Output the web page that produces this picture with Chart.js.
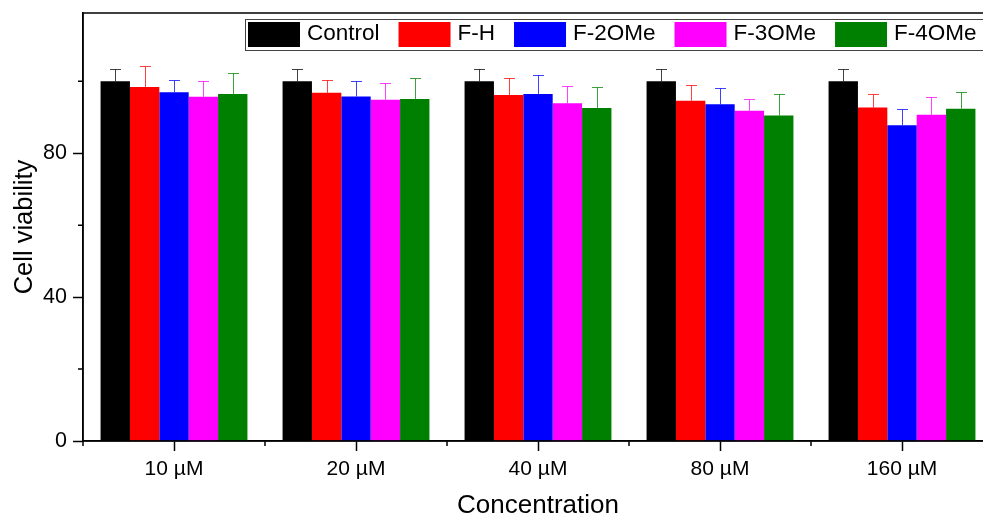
<!DOCTYPE html>
<html>
<head>
<meta charset="utf-8">
<script src="https://cdn.jsdelivr.net/npm/chart.js@4.4.0/dist/chart.umd.min.js"></script>
<style>
  html, body { margin: 0; padding: 0; background: #fff; overflow: hidden; }
  #wrap { width: 1010px; height: 516px; }
</style>
</head>
<body>
<div id="wrap"><canvas id="chart" width="1010" height="516"></canvas></div>
<script>
// Data
var categories = ['10 µM', '20 µM', '40 µM', '80 µM', '160 µM'];
var seriesNames = ['Control', 'F-H', 'F-2OMe', 'F-3OMe', 'F-4OMe'];
var seriesColors = ['#000000', '#ff0000', '#0000ff', '#ff00ff', '#008000'];

var control = [100, 100, 100, 100, 100];
var fH = [98.4, 96.8, 96.2, 94.6, 92.7];
var f2OMe = [97.0, 95.8, 96.5, 93.6, 87.8];
var f3OMe = [95.7, 94.9, 93.9, 91.8, 90.7];
var f4OMe = [96.5, 95.1, 92.6, 90.5, 92.4];

var controlErr = [3.5, 3.5, 3.5, 3.5, 3.5];
var fHErr = [5.9, 3.7, 4.8, 4.4, 3.8];
var f2OMeErr = [3.5, 4.4, 5.3, 4.5, 4.5];
var f3OMeErr = [4.5, 4.5, 4.7, 3.4, 4.9];
var f4OMeErr = [5.8, 5.7, 5.8, 6.0, 4.5];

var yTicks = [0, 40, 80];
var yMinorTicks = [20, 60, 100];

var FONT = '"Liberation Sans", Arial, sans-serif';

var values = [control, fH, f2OMe, f3OMe, f4OMe];
var errors = [controlErr, fHErr, f2OMeErr, f3OMeErr, f4OMeErr];

var datasets = seriesNames.map(function (name, i) {
    return {
        label: name,
        data: values[i],
        errors: errors[i],
        backgroundColor: seriesColors[i],
        borderWidth: 0
    };
});

// Upward error bars with caps
var errorBars = {
    id: 'errorBars',
    afterDatasetsDraw: function (chart) {
        var ctx = chart.ctx;
        var y = chart.scales.y;
        ctx.save();
        ctx.lineWidth = 1;
        chart.data.datasets.forEach(function (ds, i) {
            var meta = chart.getDatasetMeta(i);
            ctx.strokeStyle = ds.backgroundColor;
            ctx.globalAlpha = 0.75;
            meta.data.forEach(function (bar, j) {
                var top = y.getPixelForValue(ds.data[j]);
                var end = y.getPixelForValue(ds.data[j] + ds.errors[j]);
                var x = Math.round(bar.x) + 0.5;
                ctx.beginPath();
                ctx.moveTo(x, top);
                ctx.lineTo(x, Math.round(end) + 0.5);
                ctx.moveTo(x - 5.5, Math.round(end) + 0.5);
                ctx.lineTo(x + 5.5, Math.round(end) + 0.5);
                ctx.stroke();
            });
        });
        ctx.restore();
    }
};

// Frame, minor ticks and the boxed legend
var decorations = {
    id: 'decorations',
    afterDraw: function (chart) {
        var ctx = chart.ctx;
        var a = chart.chartArea;
        var x = chart.scales.x;
        var y = chart.scales.y;
        ctx.save();
        ctx.strokeStyle = '#000';
        ctx.lineWidth = 1.5;
        ctx.strokeRect(a.left, a.top, a.right - a.left, a.bottom - a.top);

        // minor ticks on y
        ctx.beginPath();
        yMinorTicks.forEach(function (v) {
            var py = y.getPixelForValue(v);
            ctx.moveTo(a.left - 5, py);
            ctx.lineTo(a.left, py);
        });
        // minor ticks on x at category boundaries
        for (var i = 0; i <= categories.length; i++) {
            var px = x.getPixelForValue(i - 0.5);
            ctx.moveTo(px, a.bottom);
            ctx.lineTo(px, a.bottom + 5);
        }
        ctx.stroke();

        // legend
        ctx.lineWidth = 1;
        ctx.strokeStyle = '#444';
        ctx.fillStyle = '#fff';
        ctx.fillRect(245, 19, 800, 31);
        ctx.strokeRect(245.5, 19.5, 800, 31);
        ctx.font = '22.5px ' + FONT;
        ctx.textBaseline = 'middle';
        var lx = 248;
        chart.data.datasets.forEach(function (ds) {
            ctx.fillStyle = ds.backgroundColor;
            ctx.fillRect(lx, 22, 52, 25);
            lx += 52 + 7;
            ctx.fillStyle = '#000';
            ctx.fillText(ds.label, lx, 34);
            lx += ctx.measureText(ds.label).width + 19;
        });
        ctx.restore();
    }
};

new Chart(document.getElementById('chart'), {
    type: 'bar',
    data: { labels: categories, datasets: datasets },
    options: {
        responsive: false,
        animation: false,
        layout: { padding: { top: 13, right: 17, left: 0, bottom: 0 } },
        datasets: { bar: { categoryPercentage: 0.807, barPercentage: 1 } },
        plugins: { legend: { display: false }, tooltip: { enabled: false } },
        scales: {
            x: {
                grid: { display: true, drawOnChartArea: false, drawTicks: true, tickLength: 10, tickColor: '#000', tickWidth: 1.5, offset: false },
                border: { display: true, color: '#000', width: 1.5 },
                ticks: { color: '#000', font: { family: FONT, size: 21 }, padding: 6, maxRotation: 0, autoSkip: false },
                title: { display: true, text: 'Concentration', color: '#000', font: { family: FONT, size: 26, lineHeight: 0.77 }, padding: 0 },
                afterFit: function (s) { s.height = 75; s.paddingLeft = 0; s.paddingRight = 0; }
            },
            y: {
                min: 0,
                max: 119,
                afterBuildTicks: function (s) { s.ticks = yTicks.map(function (v) { return { value: v }; }); },
                grid: { display: true, drawOnChartArea: false, drawTicks: true, tickLength: 10, tickColor: '#000', tickWidth: 1.5 },
                border: { display: true, color: '#000', width: 1.5 },
                ticks: { color: '#000', font: { family: FONT, size: 21.5 }, padding: 6 },
                title: { display: true, text: 'Cell viability', color: '#000', font: { family: FONT, size: 25.5, lineHeight: 1 }, padding: { top: 12, bottom: 0 } },
                afterFit: function (s) { s.width = 83; s.paddingTop = 0; s.paddingBottom = 0; }
            }
        }
    },
    plugins: [errorBars, decorations]
});
</script>
</body>
</html>
